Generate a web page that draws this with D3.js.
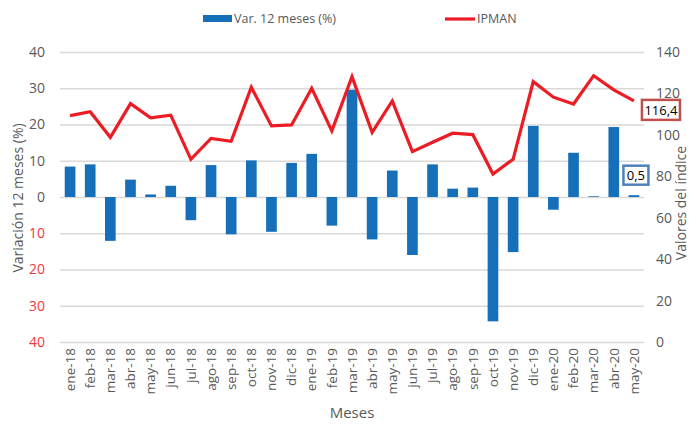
<!DOCTYPE html>
<html><head><meta charset="utf-8">
<script src="https://cdn.jsdelivr.net/npm/d3@7"></script>
<style>
body{margin:0;background:#fff;}
svg{font-family:"Open Sans","Noto Sans",sans-serif;}
</style></head><body>
<svg id="chart" width="696" height="424"></svg>
<script>
const months = ["ene-18","feb-18","mar-18","abr-18","may-18","jun-18","jul-18","ago-18","sep-18","oct-18","nov-18","dic-18",
"ene-19","feb-19","mar-19","abr-19","may-19","jun-19","jul-19","ago-19","sep-19","oct-19","nov-19","dic-19",
"ene-20","feb-20","mar-20","abr-20","may-20"];
const varPct = [8.4,9.0,-12.1,4.8,0.7,3.1,-6.4,8.8,-10.3,10.1,-9.6,9.4,
11.9,-7.9,29.6,-11.7,7.3,-16.0,9.0,2.3,2.6,-34.3,-15.2,19.6,
-3.5,12.2,0.2,19.3,0.5];
const ipman = [109.3,111.2,98.8,115.1,108.2,109.5,88.2,98.3,96.9,123.0,104.3,104.8,
122.5,101.9,128.1,101.2,116.4,91.9,96.4,100.8,100.1,81.1,88.2,125.7,
118.2,114.9,128.6,121.7,116.4];
const leftTicks = [-40,-30,-20,-10,0,10,20,30,40];
const rightTicks = [0,20,40,60,80,100,120,140];
const seriesNames = ["Var. 12 meses (%)","IPMAN"];

const svg = d3.select("#chart");
const L=60, R=644, T=52, B=342;
const blue="#156fb9", red="#ec1c24", gray="#595959", grid="#d9d9d9";

const x = d3.scaleBand().domain(months).range([L,R]).paddingInner(0.47).paddingOuter(0.235);
const yL = d3.scaleLinear().domain([-40,40]).range([B,T]);
const yR = d3.scaleLinear().domain([0,140]).range([B,T]);

// gridlines
svg.append("g").attr("transform",`translate(${L},0)`)
  .call(d3.axisLeft(yL).tickValues(leftTicks).tickSize(-(R-L)).tickFormat(""))
  .call(g=>g.select(".domain").remove())
  .call(g=>g.selectAll("line").attr("stroke",grid).attr("stroke-width",1.3));

// left axis
svg.append("g").attr("transform",`translate(${L-12},0)`)
  .call(d3.axisLeft(yL).tickValues(leftTicks).tickSize(0).tickFormat(d=>Math.abs(d)))
  .call(g=>g.select(".domain").remove())
  .call(g=>g.selectAll("text").attr("font-size",14).attr("fill",d=>d<0?"#f0393f":gray).attr("font-family","Open Sans"));

// right axis
svg.append("g").attr("transform",`translate(${R+9},0)`)
  .call(d3.axisRight(yR).tickValues(rightTicks).tickSize(0))
  .call(g=>g.select(".domain").remove())
  .call(g=>g.selectAll("text").attr("font-size",14).attr("fill",gray).attr("font-family","Open Sans"));

// x axis labels
svg.append("g").attr("transform",`translate(0,${B})`)
  .call(d3.axisBottom(x).tickSize(0))
  .call(g=>g.select(".domain").remove())
  .call(g=>g.selectAll("text").attr("font-size",13.5).attr("fill",gray)
     .attr("transform","rotate(-90)").attr("text-anchor","end")
     .attr("x",-6).attr("y",0).attr("dy","0.35em").attr("font-family","Open Sans"));

// bars
svg.append("g").selectAll("rect").data(varPct).join("rect")
  .attr("x",(d,i)=>x(months[i]))
  .attr("width",x.bandwidth())
  .attr("y",d=>yL(Math.max(0,d)))
  .attr("height",d=>Math.abs(yL(d)-yL(0)))
  .attr("fill",blue);

// line
const line = d3.line().x((d,i)=>x(months[i])+x.bandwidth()/2).y(d=>yR(d));
svg.append("path").datum(ipman).attr("d",line).attr("fill","none")
  .attr("stroke",red).attr("stroke-width",3.2).attr("stroke-linejoin","miter");

// data labels
const last = months.length-1;
const cx = x(months[last])+x.bandwidth()/2;
function labelBox(text, xc, yc, w, h, color){
  const g = svg.append("g");
  g.append("rect").attr("x",xc-w/2).attr("y",yc-h/2).attr("width",w).attr("height",h)
    .attr("fill","#fff").attr("stroke",color).attr("stroke-width",2.5);
  g.append("text").attr("x",xc).attr("y",yc).attr("dy","0.36em").attr("text-anchor","middle")
    .attr("font-size",13).attr("fill","#000").attr("font-family","Open Sans").text(text);
}
labelBox(d3.format(".1f")(ipman[last]).replace(".",","), cx+27, yR(ipman[last])+9, 38, 20, "#c0504d");
labelBox(d3.format(".1f")(varPct[last]).replace(".",","), cx+2, yL(varPct[last])-20, 25, 19, "#4f81bd");

// legend
svg.append("rect").attr("x",203).attr("y",15).attr("width",29).attr("height",7).attr("fill",blue);
svg.append("text").attr("x",234).attr("y",23).attr("font-size",12.5).attr("fill",gray).text(seriesNames[0]);
svg.append("line").attr("x1",445).attr("x2",475).attr("y1",19).attr("y2",19).attr("stroke",red).attr("stroke-width",3.2);
svg.append("text").attr("x",477).attr("y",23).attr("font-size",12.5).attr("fill",gray).text(seriesNames[1]);

// axis titles
svg.append("text").attr("transform","translate(23,198) rotate(-90)").attr("text-anchor","middle")
  .attr("font-size",14).attr("fill",gray).text("Variación 12 meses (%)");
svg.append("text").attr("transform","translate(686,203) rotate(-90)").attr("text-anchor","middle")
  .attr("font-size",14).attr("fill",gray).text("Valores del índice");
svg.append("text").attr("x",352).attr("y",418).attr("text-anchor","middle")
  .attr("font-size",15).attr("fill",gray).text("Meses");
</script></body></html>
